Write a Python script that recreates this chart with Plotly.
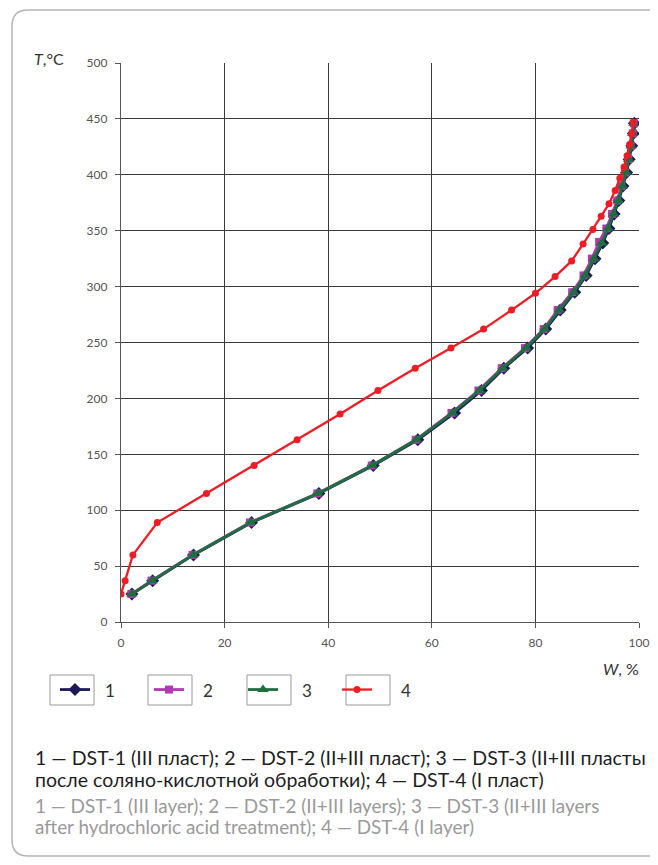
import plotly.graph_objects as go

# ---------------- data ----------------
names = ["1", "2", "3", "4"]

W1 = [2.1, 6.1, 14.0, 25.2, 38.2, 48.7, 57.3, 64.4, 69.6, 73.9, 78.5, 82.0, 84.8, 87.6, 89.8, 91.5, 93.0, 94.2, 95.2, 96.1, 96.9, 97.6, 98.1, 98.6, 98.9, 99.1]
T1 = [25, 37, 60, 89, 115, 140, 163, 187, 207, 227, 245, 262, 279, 295, 310, 325, 339, 352, 365, 377, 390, 402, 414, 426, 437, 446]

W2 = [2.0, 5.9, 13.8, 24.9, 37.9, 48.4, 56.9, 63.8, 69.0, 73.5, 78.0, 81.6, 84.3, 87.1, 89.3, 90.9, 92.3, 93.7, 94.8, 95.8, 96.6, 97.3, 97.9, 98.4, 98.8, 99.0]
T2 = [25, 37, 60, 89, 115, 140, 163, 187, 207, 227, 245, 262, 279, 295, 310, 325, 340, 352, 365, 377, 390, 402, 414, 426, 437, 446]

W3 = [2.1, 6.0, 13.9, 25.0, 38.0, 48.5, 57.0, 64.0, 69.2, 73.7, 78.2, 81.8, 84.6, 87.4, 89.6, 91.3, 92.8, 94.0, 95.1, 96.0, 96.8, 97.5, 98.0, 98.5, 98.8, 99.0]
T3 = [25, 37, 60, 89, 115, 140, 163, 187, 207, 227, 245, 262, 279, 295, 310, 325, 339, 352, 365, 377, 390, 402, 414, 426, 437, 446]

W4 = [0.0, 0.8, 2.3, 7.0, 16.5, 25.7, 34.0, 42.3, 49.6, 56.8, 63.7, 70.0, 75.4, 80.0, 83.8, 87.0, 89.2, 91.1, 92.7, 94.2, 95.4, 96.3, 97.1, 97.7, 98.2, 98.6, 98.9]
T4 = [25, 37, 60, 89, 115, 140, 163, 186, 207, 227, 245, 262, 279, 294, 309, 323, 338, 351, 363, 374, 386, 397, 407, 417, 427, 437, 447]

x_ticks = [0, 20, 40, 60, 80, 100]
y_ticks = [0, 50, 100, 150, 200, 250, 300, 350, 400, 450, 500]

caption_ru = ["1 — DST-1 (III пласт); 2 — DST-2 (II+III пласт); 3 — DST-3 (II+III пласты",
              "после соляно-кислотной обработки); 4 — DST-4 (I пласт)"]
caption_en = ["1 — DST-1 (III layer); 2 — DST-2 (II+III layers); 3 — DST-3 (II+III layers",
              "after hydrochloric acid treatment); 4 — DST-4 (I layer)"]

# ---------------- layout geometry ----------------
OFF = 8                      # default page body margin
WIDTH, HEIGHT = 658 - 2 * OFF, 865 - 2 * OFF
L, R, TOP, BOT = 121 - OFF, 639 - OFF, 63 - OFF, 622 - OFF  # plot area in figure pixels


def px(xp):  # page pixel -> paper x
    return (xp - OFF - L) / (R - L)


def py(yp):  # page pixel -> paper y
    return (BOT - (yp - OFF)) / (BOT - TOP)


FONT = "Lato"

fig = go.Figure()

series = [
    (W1, T1, names[0], "#1b1b5a", "diamond", 10, 2.8),
    (W2, T2, names[1], "#b338b3", "square", 8, 2.8),
    (W3, T3, names[2], "#1f6e3e", "triangle-up", 10, 2.8),
    (W4, T4, names[3], "#ee1c25", "circle", 7, 2.3),
]
for W, T, nm, col, sym, ms, lw in series:
    fig.add_trace(go.Scatter(
        x=W, y=T, name=nm, mode="lines+markers",
        line=dict(color=col, width=lw),
        marker=dict(symbol=sym, size=ms, color=col),
    ))

shapes = []
# outer rounded frame (extends past right edge)
x0, x1, y0, y1, r = px(12), px(700), py(10), py(856), 16
rx, ry = r / (R - L), r / (BOT - TOP)
shapes.append(dict(
    type="path", xref="paper", yref="paper",
    path=(f"M {x0+rx} {y0} L {x1} {y0} L {x1} {y1} L {x0+rx} {y1} "
          f"Q {x0} {y1} {x0} {y1+ry} L {x0} {y0-ry} Q {x0} {y0} {x0+rx} {y0}"),
    line=dict(color="#b5b5b5", width=1.5)))

legend_box_x = [50, 148, 247, 346]
annotations = []
# legend boxes and their labels
for bx, nm in zip(legend_box_x, names):
    shapes.append(dict(type="rect", xref="paper", yref="paper",
                       x0=px(bx), x1=px(bx + 44), y0=py(675), y1=py(705),
                       line=dict(color="#9a9a9a", width=1)))
    annotations.append(dict(text=nm, xref="paper", yref="paper", x=px(bx + 53), y=py(690),
                            xanchor="left", yanchor="middle", showarrow=False,
                            font=dict(family=FONT, size=17, color="#333")))

annotations += [
    dict(text="<i>T</i>,°C", xref="paper", yref="paper", x=px(32), y=py(58),
         xanchor="left", yanchor="middle", showarrow=False,
         font=dict(family=FONT, size=16, color="#333")),
    dict(text="<i>W</i>, %", xref="paper", yref="paper", x=px(641), y=py(668),
         xanchor="right", yanchor="middle", showarrow=False,
         font=dict(family=FONT, size=16, color="#333")),
]
for i, line in enumerate(caption_ru):
    annotations.append(dict(text=line, xref="paper", yref="paper", x=px(33), y=py(757 + 22 * i),
                            xanchor="left", yanchor="middle", showarrow=False,
                            font=dict(family=FONT, size=19.5, color="#1e1e1e")))
for i, line in enumerate(caption_en):
    annotations.append(dict(text=line, xref="paper", yref="paper", x=px(33), y=py(805 + 21 * i),
                            xanchor="left", yanchor="middle", showarrow=False,
                            font=dict(family=FONT, size=18.9, color="#9a9a9a")))

axis_common = dict(
    showgrid=True, gridcolor="#3a3a3a", gridwidth=1.3,
    showline=True, linecolor="#555", linewidth=1.3,
    ticks="outside", ticklen=5, tickcolor="#555",
    tickfont=dict(family=FONT, size=12, color="#555"),
    zeroline=False, fixedrange=True,
)

fig.update_layout(
    width=WIDTH, height=HEIGHT,
    margin=dict(l=L, r=WIDTH - R, t=TOP, b=HEIGHT - BOT, autoexpand=False),
    paper_bgcolor="white", plot_bgcolor="white",
    xaxis=dict(range=[0, 100], tickvals=x_ticks, ticklabelstandoff=4, **axis_common),
    yaxis=dict(range=[0, 500], tickvals=y_ticks, ticklabelstandoff=5, **axis_common),
    showlegend=True,
    legend=dict(orientation="h", x=px(55), y=py(690), xanchor="left", yanchor="middle",
                entrywidth=49, entrywidthmode="pixels",
                font=dict(family=FONT, size=17, color="rgba(0,0,0,0)"),
                bgcolor="rgba(0,0,0,0)", itemclick=False, itemdoubleclick=False),
    shapes=shapes,
    annotations=annotations,
)

fig.write_html("out.html")
